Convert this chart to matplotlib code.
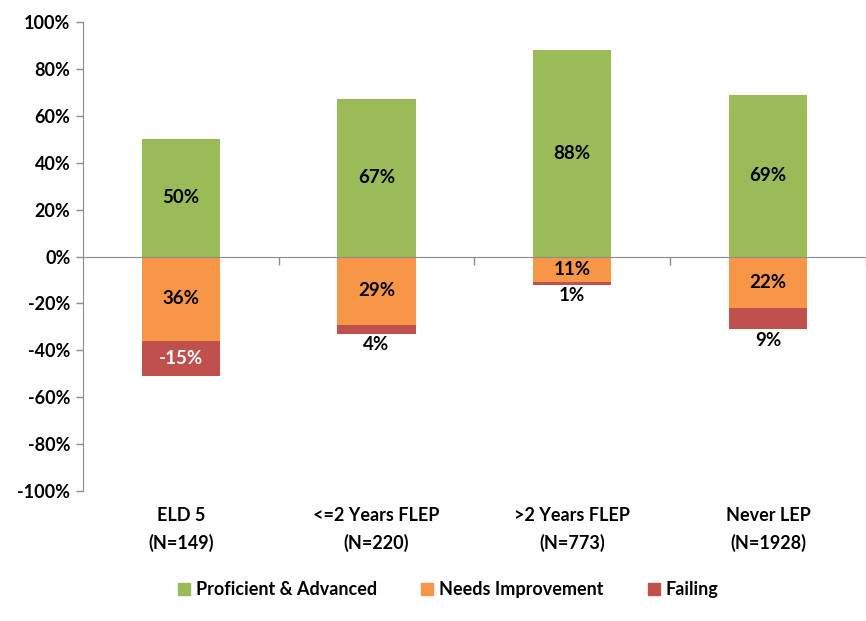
import matplotlib
matplotlib.use("Agg")
import matplotlib.pyplot as plt
import matplotlib.transforms as mtransforms
from matplotlib.lines import Line2D

plt.rcParams['font.family'] = ['Lato', 'DejaVu Sans']
plt.rcParams['font.weight'] = 'bold'

categories = ["ELD 5\n(N=149)", "<=2 Years FLEP\n(N=220)", ">2 Years FLEP\n(N=773)", "Never LEP\n(N=1928)"]
proficient = [50, 67, 88, 69]
needs_improvement = [36, 29, 11, 22]
failing = [15, 4, 1, 9]
failing_labels = ["-15%", "4%", "1%", "9%"]
series_names = ["Proficient & Advanced", "Needs Improvement", "Failing"]
yticks = [-100, -80, -60, -40, -20, 0, 20, 40, 60, 80, 100]

green = "#9BBB59"
orange = "#F79646"
red = "#C0504D"
axis_gray = "#8C8C8C"

fig = plt.figure(figsize=(8.66, 6.21), dpi=100)
ax = fig.add_axes([0.0958, 0.2093, 0.904, 0.7552])

x = list(range(1, len(categories) + 1))
w = 0.4
ni_neg = [-v for v in needs_improvement]
fail_neg = [-v for v in failing]

ax.bar(x, proficient, width=w, color=green, zorder=2)
ax.bar(x, ni_neg, width=w, color=orange, zorder=2)
ax.bar(x, fail_neg, width=w, bottom=ni_neg, color=red, zorder=2)

fs = 13.5
for xi, p, n, f, fl in zip(x, proficient, needs_improvement, failing, failing_labels):
    ax.text(xi, p / 2, f"{p}%", ha='center', va='center', fontsize=fs, color='black', fontweight='bold')
    ax.text(xi, -n / 2, f"{n}%", ha='center', va='center', fontsize=fs, color='black', fontweight='bold')
    if f >= 10:
        ax.text(xi, -n - f / 2, fl, ha='center', va='center', fontsize=fs, color='white', fontweight='bold')
    else:
        ax.text(xi, -n - f - 1.0, fl, ha='center', va='top', fontsize=fs, color='black', fontweight='bold')

ax.set_xlim(0.5, 4.5)
ax.set_ylim(-100, 100)
ax.set_yticks(yticks)
ax.set_yticklabels([f"{v}%" for v in yticks], fontsize=13, fontweight='bold')

ax.spines['top'].set_visible(False)
ax.spines['right'].set_visible(False)
ax.spines['left'].set_color(axis_gray)
ax.spines['bottom'].set_color(axis_gray)
ax.spines['bottom'].set_position(('data', 0))
ax.spines['bottom'].set_zorder(3)

ax.set_xticks([1.5, 2.5, 3.5, 4.5])
ax.set_xticklabels([])
ax.tick_params(axis='x', direction='out', length=6, color=axis_gray, width=1)
ax.tick_params(axis='y', direction='out', length=5, color=axis_gray, width=1, pad=4)

trans = mtransforms.blended_transform_factory(ax.transData, ax.transAxes)
for xi, c in zip(x, categories):
    ax.text(xi, -0.035, c, transform=trans, ha='center', va='top', fontsize=13,
            fontweight='bold', linespacing=1.6)

handles = [Line2D([], [], marker='s', linestyle='none', markersize=9, markerfacecolor=col,
                  markeredgecolor=col) for col in (green, orange, red)]
fig.legend(handles, series_names, loc='center', bbox_to_anchor=(0.517, 0.051), ncol=3,
           frameon=False, handletextpad=0.25, columnspacing=2.4, handlelength=0.8,
           prop={'weight': 'bold', 'size': 13})

fig.savefig("out.png", dpi=100)
